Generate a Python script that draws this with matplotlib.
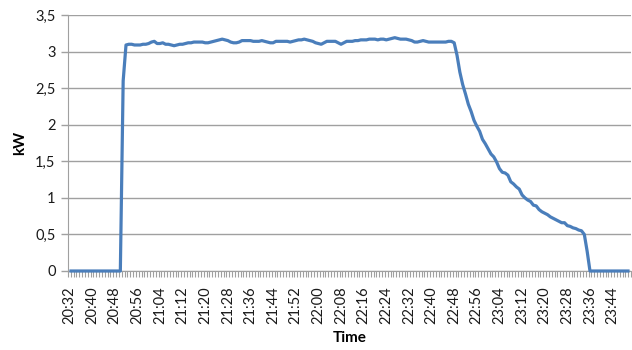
import matplotlib
matplotlib.use("Agg")
import matplotlib.pyplot as plt
import numpy as np

# ---- data (kW per minute, starting 20:32) ----
off_before = [0.0] * 19                      # 20:32 .. 20:50
ramp_up = [2.60]                             # 20:51
plateau = [3.09, 3.10, 3.10, 3.09, 3.09, 3.09, 3.10, 3.10, 3.11, 3.13,
           3.14, 3.11, 3.11, 3.12, 3.10, 3.10, 3.09, 3.08, 3.09, 3.10,
           3.10, 3.11, 3.12, 3.12, 3.13, 3.13, 3.13, 3.13, 3.12, 3.12,
           3.13, 3.14, 3.15, 3.16, 3.17, 3.16, 3.15, 3.13, 3.12, 3.12,
           3.13, 3.15, 3.15, 3.15, 3.15, 3.14, 3.14, 3.14, 3.15, 3.14,
           3.13, 3.12, 3.12, 3.14, 3.14, 3.14, 3.14, 3.14, 3.13, 3.14,
           3.15, 3.16, 3.16, 3.17, 3.16, 3.15, 3.14, 3.12, 3.11, 3.10,
           3.12, 3.14, 3.14, 3.14, 3.14, 3.12, 3.10, 3.12, 3.14, 3.14,
           3.14, 3.15, 3.15, 3.16, 3.16, 3.16, 3.17, 3.17, 3.17, 3.16,
           3.17, 3.17, 3.16, 3.17, 3.18, 3.19, 3.18, 3.17, 3.17, 3.17,
           3.16, 3.15, 3.13, 3.13, 3.14, 3.15, 3.14, 3.13, 3.13, 3.13,
           3.13, 3.13, 3.13, 3.13, 3.14, 3.14, 3.12]
decline = [2.95, 2.72, 2.55, 2.42, 2.28, 2.18, 2.06, 1.98, 1.91, 1.80,
           1.74, 1.67, 1.60, 1.56, 1.49, 1.40, 1.35, 1.34, 1.31, 1.22,
           1.19, 1.15, 1.12, 1.04, 1.00, 0.97, 0.95, 0.90, 0.89, 0.84,
           0.81, 0.79, 0.77, 0.74, 0.72, 0.70, 0.68, 0.66, 0.66, 0.62,
           0.61, 0.59, 0.58, 0.56, 0.55, 0.50, 0.27]
off_after = [0.0] * 15

tick_labels = ["20:32", "20:40", "20:48", "20:56", "21:04", "21:12", "21:20",
               "21:28", "21:36", "21:44", "21:52", "22:00", "22:08", "22:16",
               "22:24", "22:32", "22:40", "22:48", "22:56", "23:04", "23:12",
               "23:20", "23:28", "23:36", "23:44"]
y_ticks = [0, 0.5, 1, 1.5, 2, 2.5, 3, 3.5]
y_tick_labels = ["0", "0,5", "1", "1,5", "2", "2,5", "3", "3,5"]

values = off_before + ramp_up + plateau + decline + off_after
n = len(values)
idx = np.arange(n)

plt.rcParams['font.family'] = ['Lato', 'DejaVu Sans']

fig = plt.figure(figsize=(6.32, 3.5), dpi=100)
ax = fig.add_axes([68 / 632, 79 / 350, 563 / 632, 256 / 350])

ax.plot(idx, values, color="#4A7EBB", lw=2.3, solid_joinstyle="round",
        solid_capstyle="butt", zorder=3, clip_on=False)

ax.set_xlim(-0.5, n - 0.5)
ax.set_ylim(0, 3.5)

ax.set_yticks(y_ticks)
ax.set_yticklabels(y_tick_labels, fontsize=10.5, color="#1a1a1a")
ax.yaxis.grid(True, color="#a0a0a0", lw=1.0)
ax.set_axisbelow(True)

label_pos = [k * 8 for k in range(len(tick_labels))]
ax.set_xticks(label_pos)
ax.set_xticklabels(tick_labels, rotation=90, fontsize=10.5, color="#1a1a1a")
ax.set_xticks(np.arange(-0.5, n, 1.0), minor=True)
ax.tick_params(axis="x", which="major", length=0, pad=11)
ax.tick_params(axis="x", which="minor", length=4, color="#a0a0a0", width=0.8)
ax.tick_params(axis="y", which="major", length=5, color="#a0a0a0", width=1.0, pad=4)

for s in ["top", "right"]:
    ax.spines[s].set_visible(False)
ax.spines["left"].set_color("#a0a0a0")
ax.spines["bottom"].set_color("#a0a0a0")

ax.set_ylabel("kW", fontsize=11, fontweight="bold", labelpad=6)
ax.set_xlabel("Time", fontsize=11, fontweight="bold", labelpad=5)

fig.savefig("out.png", dpi=100)
